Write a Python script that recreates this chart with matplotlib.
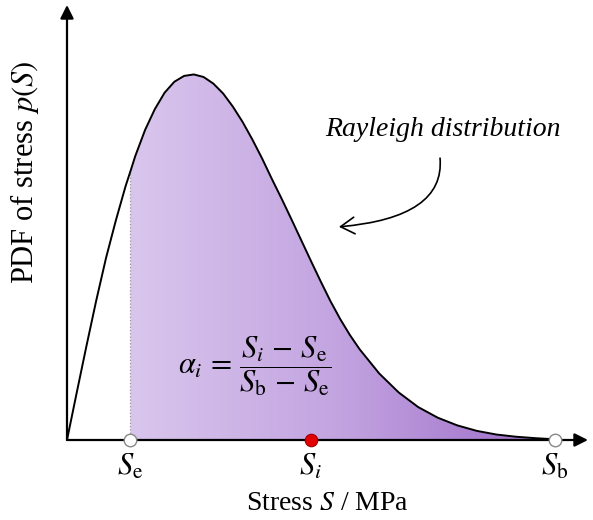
import numpy as np
import matplotlib.pyplot as plt
from matplotlib.colors import LinearSegmentedColormap

plt.rcParams["font.family"] = "Liberation Serif"
plt.rcParams["mathtext.fontset"] = "stix"

# Rayleigh curve (stress in MPa, pdf normalised to peak)
stress = [0, 10, 20, 30, 40, 50, 60, 65, 70, 80, 90, 100, 110, 120, 130,
          140, 150, 160, 170, 180, 190, 200, 210, 220, 230, 240, 250, 260,
          270, 280, 290, 300, 320, 340, 360, 380, 400, 420, 440, 460, 480, 500]
pdf = [0.0, 0.130, 0.258, 0.382, 0.498, 0.600, 0.694, 0.735, 0.777, 0.848,
       0.905, 0.950, 0.980, 0.996, 1.0, 0.993, 0.975, 0.948, 0.912, 0.870,
       0.822, 0.770, 0.714, 0.660, 0.604, 0.547, 0.490, 0.434, 0.380, 0.331,
       0.287, 0.248, 0.182, 0.130, 0.090, 0.061, 0.040, 0.025, 0.015, 0.009,
       0.005, 0.002]

s_e, s_i, s_b = 65, 250, 500
tick_pos = [s_e, s_i, s_b]
tick_labels = [r"$S_\mathrm{e}$", r"$S_i$", r"$S_\mathrm{b}$"]

fig = plt.figure(figsize=(5.93, 5.2), dpi=100)
ax = fig.add_axes([67 / 593, 80 / 520, 521 / 593, 435 / 520])
ax.set_xlim(0, 534)
ax.set_ylim(0, 1.19)

# gradient fill between Se and Sb, clipped to the area under the curve
x_fill = [s for s in stress if s >= s_e]
y_fill = pdf[len(stress) - len(x_fill):]
poly = ax.fill_between(x_fill, y_fill, 0, facecolor="none", edgecolor="none")
cmap = LinearSegmentedColormap.from_list("purp", ["#d9c6ed", "#c2a3e0", "#9c6bc7"])
grad = np.linspace(0, 1, 256).reshape(1, -1)
img = ax.imshow(grad, extent=[s_e, s_b, 0, max(pdf)], aspect="auto",
                cmap=cmap, zorder=1, origin="lower")
img.set_clip_path(poly.get_paths()[0], transform=ax.transData)

ax.plot(stress, pdf, color="black", lw=1.4, zorder=3, solid_capstyle="round")
ax.plot([s_e, s_e], [0, pdf[stress.index(s_e)]], ls=":", color="#999999",
        lw=0.9, zorder=2)

# points on the stress axis
ax.plot([s_e, s_b], [0, 0], "o", mfc="white", mec="#888888", ms=9, mew=1,
        zorder=6, clip_on=False)
ax.plot(s_i, 0, "o", mfc="#e30000", mec="#a00000", ms=9, mew=0.8,
        zorder=6, clip_on=False)

# axes as arrows
for spine in ax.spines.values():
    spine.set_visible(False)
arrow = dict(arrowstyle="-|>", lw=1.6, color="black", mutation_scale=20,
             shrinkA=0, shrinkB=0)
ax.annotate("", xy=(1, 0), xytext=(0, 0), xycoords="axes fraction",
            arrowprops=arrow, zorder=5)
ax.annotate("", xy=(0, 1), xytext=(0, 0), xycoords="axes fraction",
            arrowprops=arrow, zorder=5)

ax.set_xticks(tick_pos)
ax.set_xticklabels(tick_labels, fontsize=22)
ax.set_yticks([])
ax.tick_params(axis="x", length=0, pad=9)

ax.set_xlabel(r"Stress $S$ / MPa", fontsize=20, labelpad=7)
ax.set_ylabel(r"PDF of stress $p(S)$", fontsize=22)
ax.yaxis.set_label_coords(-0.05, 0.615)

ax.text(0.722, 0.713, "Rayleigh distribution", transform=ax.transAxes,
        fontsize=20, fontstyle="italic", ha="center", va="center")
ax.annotate("", xy=(0.522, 0.490), xytext=(0.716, 0.648),
            xycoords="axes fraction",
            arrowprops=dict(arrowstyle="->,head_length=0.5,head_width=0.3",
                            connectionstyle="angle3,angleA=95,angleB=5",
                            lw=1.2, color="black", mutation_scale=20,
                            shrinkA=0, shrinkB=0))

ax.text(0.36, 0.170,
        r"$\alpha_i\,=\,\dfrac{S_i\,-\,S_\mathrm{e}}{S_\mathrm{b}\,-\,S_\mathrm{e}}$",
        transform=ax.transAxes, fontsize=22, ha="center", va="center", zorder=4)

fig.savefig("out.png", dpi=100)
